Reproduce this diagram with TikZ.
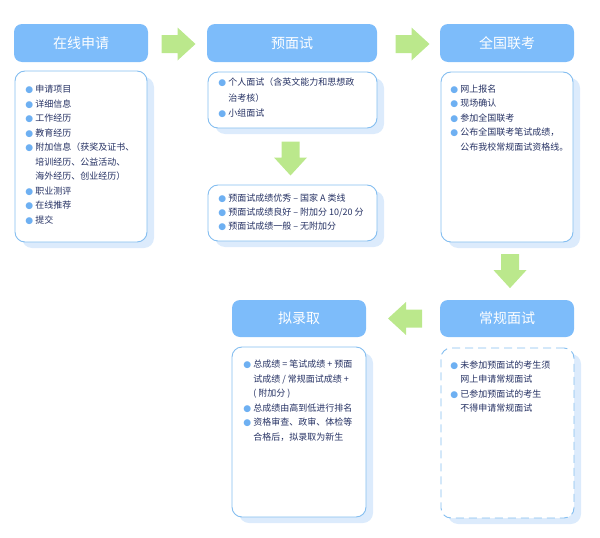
\documentclass[tikz,border=0pt]{standalone}
\usepackage{fontspec}
\setmainfont{Noto Sans CJK SC}
\newfontfamily\punktfont{DejaVu Sans}
\usetikzlibrary{positioning,calc,shadows}
\definecolor{kopfblau}{RGB}{125,188,250}
\definecolor{randblau}{RGB}{132,190,240}
\definecolor{schattenblau}{RGB}{220,235,252}
\definecolor{punktblau}{RGB}{110,176,242}
\definecolor{textblau}{RGB}{38,50,100}
\definecolor{pfeilgruen}{RGB}{187,232,140}
% Aufzählungspunkt und Einrückung der Folgezeilen:
\newcommand\punkt{\makebox[10pt][l]{\textcolor{punktblau}{\punktfont\fontsize{9}{9}\selectfont ●}}}
\newcommand\weiter{\hspace*{10pt}}
\tikzset{
    kopf/.style={fill=kopfblau, rounded corners=8pt, minimum width=134pt, minimum height=38pt,
        inner sep=0pt, text=white, font=\fontsize{14}{14}\selectfont},
    kasten/.style={draw=randblau, line width=0.9pt, fill=white, rounded corners=10pt,
        drop shadow={shadow xshift=7pt, shadow yshift=-6pt, fill=schattenblau, opacity=1}},
    liste/.style={anchor=north west, inner sep=0pt, align=left, text=textblau,
        font=\fontsize{9}{14.5}\selectfont},
    % die grünen Blockpfeile (nach rechts bzw. nach unten):
    pfeil rechts/.pic={\fill[pfeilgruen] (-17,-9) -- (-1,-9) -- (-1,-16.5) -- (17,0)
        -- (-1,16.5) -- (-1,9) -- (-17,9) -- cycle;},
    pfeil unten/.pic={\fill[pfeilgruen] (-9,-17) -- (9,-17) -- (9,-1) -- (16.5,-1)
        -- (0,17) -- (-16.5,-1) -- (-9,-1) -- cycle;}
}
\begin{document}
\begin{tikzpicture}[x=1pt, y=-1pt]
    % Bildgröße wie im Original (y zeigt nach unten, Einheiten in Pixeln):
    \useasboundingbox (0,0) rectangle (600,538);
    % Die fünf Überschriften:
    \node[kopf] (k1) at (81,43) {在线申请};
    \node[kopf, minimum width=170pt] (k2) at (292,43) {预面试};
    \node[kopf] (k3) at (507,43) {全国联考};
    \node[kopf, minimum height=37pt] (k5) at (507,318.5) {常规面试};
    \node[kopf, minimum height=37pt] (k6) at (299,318.5) {拟录取};
    % Die Kästen darunter (nur Rahmen, der Text kommt extra):
    \node[kasten, minimum width=132pt, minimum height=171pt] (b1) at (81,156.5) {};
    \node[kasten, minimum width=169pt, minimum height=56pt] (b2) at (292.5,100) {};
    \node[kasten, minimum width=169pt, minimum height=56pt] (b3) at (292.5,213) {};
    \node[kasten, minimum width=132pt, minimum height=170pt] (b4) at (507,157) {};
    \node[kasten, dash pattern=on 8pt off 5pt, minimum width=133pt, minimum height=170pt] (b5) at (507.5,433) {};
    \node[kasten, minimum width=134pt, minimum height=170pt] (b6) at (299,432) {};
    % Die Texte in den Kästen, jeweils oben links angesetzt:
    \node[liste] (t1) at ($(b1.north west)+(10.5,14.5)$) {%
        \punkt 申请项目\\ \punkt 详细信息\\ \punkt 工作经历\\ \punkt 教育经历\\
        \punkt 附加信息（获奖及证书、\\ \weiter 培训经历、公益活动、\\ \weiter 海外经历、创业经历）\\
        \punkt 职业测评\\ \punkt 在线推荐\\ \punkt 提交};
    \node[liste, font=\fontsize{9}{15.5}\selectfont] (t2) at ($(b2.north west)+(10.5,6.5)$) {%
        \punkt 个人面试（含英文能力和思想政\\ \weiter 治考核）\\ \punkt 小组面试};
    \node[liste, font=\fontsize{9}{14}\selectfont] (t3) at ($(b3.north west)+(10.5,9.5)$) {%
        \punkt 预面试成绩优秀 – 国家 A 类线\\ \punkt 预面试成绩良好 – 附加分 10/20 分\\
        \punkt 预面试成绩一般 – 无附加分};
    \node[liste] (t4) at ($(b4.north west)+(9.5,13)$) {%
        \punkt 网上报名\\ \punkt 现场确认\\ \punkt 参加全国联考\\
        \punkt 公布全国联考笔试成绩，\\ \weiter 公布我校常规面试资格线。};
    \node[liste] (t5) at ($(b5.north west)+(9.5,13)$) {%
        \punkt 未参加预面试的考生须\\ \weiter 网上申请常规面试\\
        \punkt 已参加预面试的考生\\ \weiter 不得申请常规面试};
    \node[liste] (t6) at ($(b6.north west)+(11.5,13.5)$) {%
        \punkt 总成绩 = 笔试成绩 + 预面\\ \weiter 试成绩 / 常规面试成绩 +\\ \weiter ( 附加分 )\\
        \punkt 总成绩由高到低进行排名\\ \punkt 资格审查、政审、体检等\\ \weiter 合格后，拟录取为新生};
    % Die grünen Pfeile sitzen jeweils mittig zwischen zwei Kästen:
    \pic at ($(k1.east)!0.5!(k2.west)+(1,1)$) {pfeil rechts};
    \pic at ($(k2.east)!0.5!(k3.west)+(4,1)$) {pfeil rechts};
    \pic at ($(b2.south)!0.5!(b3.north)+(-2,2)$) {pfeil unten};
    \pic at ($(b4.south)!0.5!(k5.north)+(3,0)$) {pfeil unten};
    \pic[xscale=-1] at ($(k5.west)!0.5!(k6.east)+(2,0)$) {pfeil rechts};
\end{tikzpicture}
\end{document}
